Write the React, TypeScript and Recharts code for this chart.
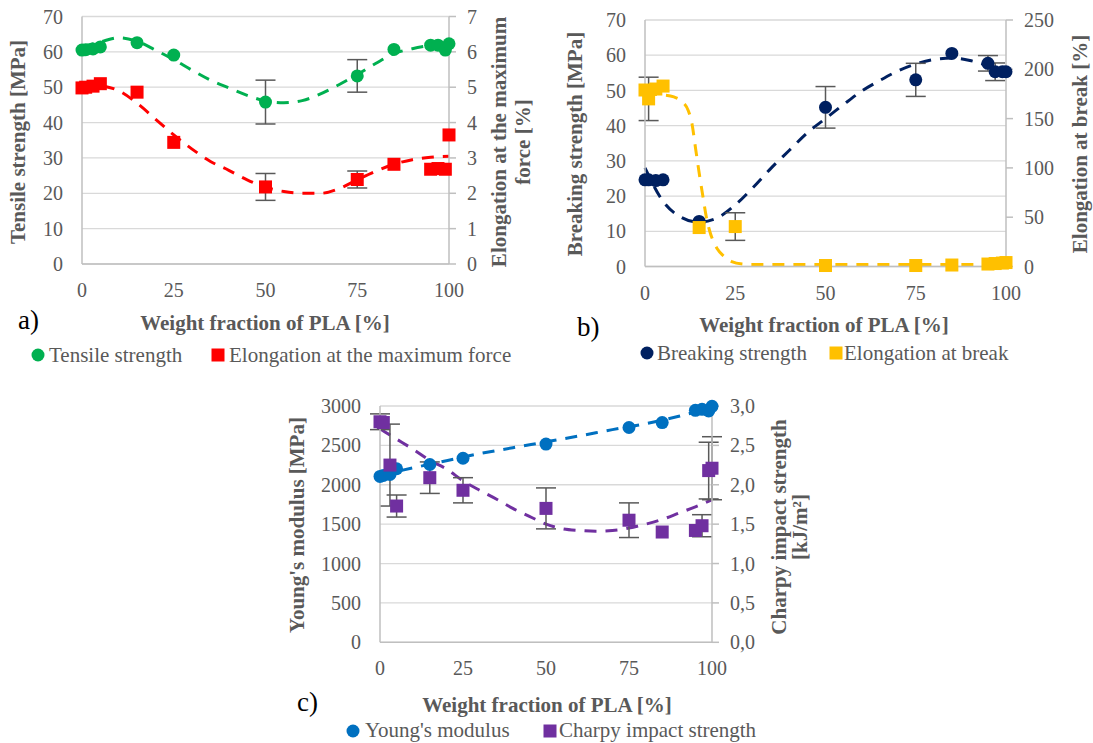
import React from "react";
import {
  CartesianGrid,
  ComposedChart,
  ErrorBar,
  Line,
  Scatter,
  XAxis,
  YAxis,
} from "recharts";

const FONT = '"Liberation Serif", serif';
const GREY = "#595959";
const GRID = "#d9d9d9";
const AXIS = "#bfbfbf";

// shared
const plaFraction = [0, 1, 3, 5, 15, 25, 50, 75, 85, 95, 97, 99, 100];
const xTicks = [0, 25, 50, 75, 100];
const trendX = [0, 5, 10, 15, 20, 25, 30, 35, 40, 45, 50, 55, 60, 65, 70, 75, 80, 85, 90, 95, 100];
const trendX10 = [0, 10, 20, 30, 40, 50, 60, 70, 80, 90, 100];

// a) tensile strength / elongation at max force
const tensileTicks = [0, 10, 20, 30, 40, 50, 60, 70];
const elongMaxTicks = [0, 1, 2, 3, 4, 5, 6, 7];
const tensile = [60.5, 60.6, 60.8, 61.4, 62.6, 59.1, 45.8, 53.2, 60.7, 61.9, 61.9, 60.5, 62.3];
const tensileErr = [null, null, null, null, null, null, 6.2, 4.6, null, null, null, null, null];
const elongMax = [4.98, 5.0, 5.03, 5.1, 4.86, 3.44, 2.18, 2.39, 2.82, 2.68, 2.7, 2.68, 3.65];
const elongMaxErr = [null, null, null, null, null, null, 0.38, 0.24, null, null, null, null, null];
const tensileTrend = [61.5, 62.8, 64.0, 63.0, 60.5, 57.8, 54.8, 52.0, 49.8, 47.7, 46.1, 45.6, 46.2, 48.1, 50.7, 53.6, 56.7, 59.5, 60.9, 61.8, 62.3];
const elongMaxTrend = [5.1, 5.05, 4.9, 4.55, 4.1, 3.65, 3.25, 2.9, 2.65, 2.38, 2.17, 2.05, 2.0, 2.0, 2.13, 2.38, 2.62, 2.82, 2.95, 3.02, 3.05];

// b) breaking strength / elongation at break
const breakingTicks = [0, 10, 20, 30, 40, 50, 60, 70];
const elongBreakTicks = [0, 50, 100, 150, 200, 250];
const breaking = [24.6, 24.6, 24.4, 24.6, 12.8, null, 45.2, 53.0, 60.5, 57.7, 55.3, 55.3, 55.3];
const breakingErr = [null, null, null, null, null, null, 5.9, 4.7, null, 2.2, 2.5, null, null];
const elongBreak = [179, 170, 180, 183, 39.5, 40.5, 1, 1, 1.5, 2.5, 3, 3.5, 4];
const elongBreakErr = [null, 22, null, null, null, 14, null, null, null, null, null, null, null];
const breakingTrend = [28, 18.5, 14, 12.6, 13.8, 17.5, 22.5, 28, 33, 38, 42, 46, 49.8, 52.8, 55.5, 57.5, 58.8, 59.2, 58.5, 57, 55];
const elongBreakTrendX = [0, 5, 8, 10, 12, 13, 14, 15, 16, 17, 18, 19, 20, 22, 24, 27, 30, 40, 50, 60, 70, 80, 90, 100];
const elongBreakTrend = [175, 174, 172, 168, 158, 145, 120, 95, 72, 50, 35, 25, 18, 10, 5, 2.5, 2, 2, 2, 2, 2, 2, 2, 2];

// c) Young's modulus / Charpy impact strength
const youngTicks = [0, 500, 1000, 1500, 2000, 2500, 3000];
const charpyTicks = [0, 0.5, 1, 1.5, 2, 2.5, 3];
const young = [2106, 2119, 2131, 2203, 2257, 2337, 2517, 2727, 2790, 2945, 2958, 2937, 2996];
const charpy = [2.8, 2.79, 2.25, 1.73, 2.09, 1.93, 1.7, 1.55, 1.4, 1.42, 1.48, 2.18, 2.21];
const charpyErr = [0.1, null, 0.52, 0.14, 0.2, 0.16, 0.26, 0.22, null, null, 0.14, 0.36, 0.4];
const youngTrend = [2120, 2215, 2305, 2395, 2470, 2545, 2620, 2700, 2775, 2870, 2980];
const charpyTrend = [2.71, 2.58, 2.45, 2.31, 2.2, 2.05, 1.93, 1.82, 1.7, 1.6, 1.5, 1.44, 1.42, 1.41, 1.42, 1.45, 1.5, 1.56, 1.64, 1.72, 1.81];

type Pt = { x: number; y: number; err?: number };

const toPoints = (xs: number[], ys: (number | null)[], errs?: (number | null)[]): Pt[] =>
  xs
    .map((x, i) => ({ x, y: ys[i] as number, err: errs?.[i] ?? undefined }))
    .filter((d) => d.y !== null && d.y !== undefined);

const circle = (color: string) => (p: any) =>
  <circle cx={p.cx} cy={p.cy} r={6.5} fill={color} />;
const square = (color: string) => (p: any) =>
  <rect x={p.cx - 6.5} y={p.cy - 6.5} width={13} height={13} fill={color} />;

const tickStyle = { fill: GREY, fontSize: 20, fontFamily: FONT };

interface PanelProps {
  left: number;
  top: number;
  width: number;
  plotTop: number;
  plotH: number;
  leftW: number;
  rightW: number;
  leftDomain: [number, number];
  leftTicks: number[];
  rightDomain: [number, number];
  rightTicks: number[];
  rightFmt?: (v: number) => string;
  aColor: string;
  aPts: Pt[];
  aTrend: Pt[];
  bColor: string;
  bPts: Pt[];
  bTrend: Pt[];
}

const X_AXIS_H = 50;

const Panel = (p: PanelProps) => (
  <div style={{ position: "absolute", left: p.left, top: p.top }}>
    <ComposedChart
      width={p.width}
      height={p.plotTop + p.plotH + X_AXIS_H}
      margin={{ top: p.plotTop, right: 0, bottom: 0, left: 0 }}
      style={{ fontFamily: FONT }}
    >
      <CartesianGrid yAxisId="left" vertical={false} stroke={GRID} strokeWidth={1.3} />
      <XAxis
        type="number"
        dataKey="x"
        domain={[0, 100]}
        ticks={xTicks}
        interval={0}
        height={X_AXIS_H}
        axisLine={{ stroke: AXIS, strokeWidth: 1.5 }}
        tickLine={false}
        tickSize={0}
        tickMargin={19}
        tick={tickStyle}
      />
      <YAxis
        yAxisId="left"
        domain={p.leftDomain}
        ticks={p.leftTicks}
        interval={0}
        width={p.leftW}
        axisLine={{ stroke: AXIS, strokeWidth: 1.5 }}
        tickLine={false}
        tickSize={0}
        tickMargin={19}
        tick={tickStyle}
      />
      <YAxis
        yAxisId="right"
        orientation="right"
        domain={p.rightDomain}
        ticks={p.rightTicks}
        interval={0}
        width={p.rightW}
        axisLine={{ stroke: AXIS, strokeWidth: 1.5 }}
        tickLine={{ stroke: AXIS, strokeWidth: 1.5 }}
        tickSize={7}
        tickMargin={11}
        tick={tickStyle}
        tickFormatter={p.rightFmt}
      />
      <Line
        yAxisId="left"
        data={p.aTrend}
        dataKey="y"
        type="monotone"
        stroke={p.aColor}
        strokeWidth={3}
        strokeDasharray="12 9"
        dot={false}
        activeDot={false}
        isAnimationActive={false}
      />
      <Line
        yAxisId="right"
        data={p.bTrend}
        dataKey="y"
        type="monotone"
        stroke={p.bColor}
        strokeWidth={3}
        strokeDasharray="12 9"
        dot={false}
        activeDot={false}
        isAnimationActive={false}
      />
      <Scatter
        yAxisId="left"
        data={p.aPts}
        dataKey="y"
        shape={circle(p.aColor)}
        isAnimationActive={false}
      >
        <ErrorBar dataKey="err" direction="y" width={10} stroke={GREY} strokeWidth={1.5} />
      </Scatter>
      <Scatter
        yAxisId="right"
        data={p.bPts}
        dataKey="y"
        shape={square(p.bColor)}
        isAnimationActive={false}
      >
        <ErrorBar dataKey="err" direction="y" width={10} stroke={GREY} strokeWidth={1.5} />
      </Scatter>
    </ComposedChart>
  </div>
);

const title = { fill: GREY, fontSize: 21, fontWeight: 700, fontFamily: FONT };
const legendText = { fill: GREY, fontSize: 21, fontFamily: FONT };
const letter = { fill: "#000", fontSize: 27, fontFamily: FONT };

const VTitle = ({ x, y, children }: { x: number; y: number; children: React.ReactNode }) => (
  <text
    transform={`translate(${x},${y}) rotate(-90)`}
    textAnchor="middle"
    dominantBaseline="central"
    style={title}
  >
    {children}
  </text>
);

export default function App() {
  return (
    <div
      style={{
        position: "absolute",
        left: 0,
        top: 0,
        width: 1093,
        height: 743,
        background: "#fff",
        fontFamily: FONT,
        overflow: "hidden",
      }}
    >
      <style>{`svg text { font-family: "Liberation Serif", serif; }`}</style>
      <Panel
        left={0}
        top={0}
        width={560}
        plotTop={16.5}
        plotH={247.5}
        leftW={82}
        rightW={111}
        leftDomain={[0, 70]}
        leftTicks={tensileTicks}
        rightDomain={[0, 7]}
        rightTicks={elongMaxTicks}
        aColor="#00B050"
        aPts={toPoints(plaFraction, tensile, tensileErr)}
        aTrend={toPoints(trendX, tensileTrend)}
        bColor="#FF0000"
        bPts={toPoints(plaFraction, elongMax, elongMaxErr)}
        bTrend={toPoints(trendX, elongMaxTrend)}
      />
      <Panel
        left={540}
        top={0}
        width={553}
        plotTop={20}
        plotH={246.5}
        leftW={105}
        rightW={87}
        leftDomain={[0, 70]}
        leftTicks={breakingTicks}
        rightDomain={[0, 250]}
        rightTicks={elongBreakTicks}
        aColor="#002060"
        aPts={toPoints(plaFraction, breaking, breakingErr)}
        aTrend={toPoints(trendX, breakingTrend)}
        bColor="#FFC000"
        bPts={toPoints(plaFraction, elongBreak, elongBreakErr)}
        bTrend={toPoints(elongBreakTrendX, elongBreakTrend)}
      />
      <Panel
        left={270}
        top={380}
        width={560}
        plotTop={26}
        plotH={236.3}
        leftW={110}
        rightW={118}
        leftDomain={[0, 3000]}
        leftTicks={youngTicks}
        rightDomain={[0, 3]}
        rightTicks={charpyTicks}
        rightFmt={(v) => v.toFixed(1).replace(".", ",")}
        aColor="#0070C0"
        aPts={toPoints(plaFraction, young)}
        aTrend={toPoints(trendX10, youngTrend)}
        bColor="#7030A0"
        bPts={toPoints(plaFraction, charpy, charpyErr)}
        bTrend={toPoints(trendX, charpyTrend)}
      />
      <svg
        width={1093}
        height={743}
        style={{ position: "absolute", left: 0, top: 0, pointerEvents: "none" }}
      >
        {/* a) */}
        <VTitle x={18} y={142}>Tensile strength [MPa]</VTitle>
        <VTitle x={499} y={142}>Elongation at the maximum</VTitle>
        <VTitle x={523} y={142}>force [%]</VTitle>
        <text x={265} y={323} textAnchor="middle" dominantBaseline="central" style={title}>
          Weight fraction of PLA [%]
        </text>
        <text x={18} y={320} dominantBaseline="central" style={letter}>a)</text>
        <circle cx={38} cy={355} r={6.5} fill="#00B050" />
        <text x={49} y={355} dominantBaseline="central" style={legendText}>Tensile strength</text>
        <rect x={211.5} y={348.5} width={13} height={13} fill="#FF0000" />
        <text x={229} y={355} dominantBaseline="central" style={legendText}>
          Elongation at the maximum force
        </text>

        {/* b) */}
        <VTitle x={575} y={144}>Breaking strength [MPa]</VTitle>
        <VTitle x={1080} y={144}>Elongation at break [%]</VTitle>
        <text x={824} y={325} textAnchor="middle" dominantBaseline="central" style={title}>
          Weight fraction of PLA [%]
        </text>
        <text x={577} y={327} dominantBaseline="central" style={letter}>b)</text>
        <circle cx={647} cy={353} r={6.5} fill="#002060" />
        <text x={657} y={353} dominantBaseline="central" style={legendText}>Breaking strength</text>
        <rect x={829.5} y={346.5} width={13} height={13} fill="#FFC000" />
        <text x={844} y={353} dominantBaseline="central" style={legendText}>Elongation at break</text>

        {/* c) */}
        <VTitle x={297} y={525}>Young's modulus [MPa]</VTitle>
        <VTitle x={779} y={527}>Charpy impact strength</VTitle>
        <VTitle x={800} y={527}>[kJ/m²]</VTitle>
        <text x={547} y={705} textAnchor="middle" dominantBaseline="central" style={title}>
          Weight fraction of PLA [%]
        </text>
        <text x={297} y={702} dominantBaseline="central" style={letter}>c)</text>
        <circle cx={353} cy={731} r={6.5} fill="#0070C0" />
        <text x={365} y={730} dominantBaseline="central" style={legendText}>Young's modulus</text>
        <rect x={543.5} y={724.5} width={13} height={13} fill="#7030A0" />
        <text x={559} y={730} dominantBaseline="central" style={legendText}>
          Charpy impact strength
        </text>
      </svg>
    </div>
  );
}
